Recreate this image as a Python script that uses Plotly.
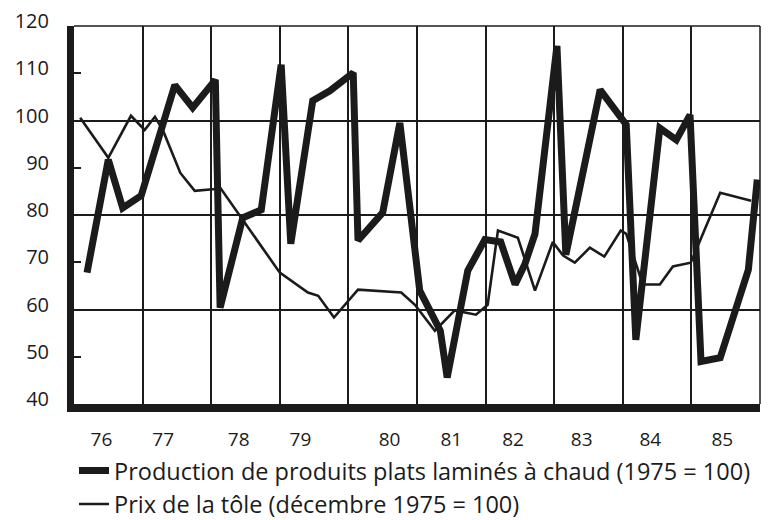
import plotly.graph_objects as go

# Production de produits plats laminés à chaud (1975 = 100)
prod_x = [1976.19, 1976.50, 1976.71, 1976.98, 1977.47, 1977.73, 1978.06, 1978.13,
          1978.46, 1978.73, 1979.02, 1979.16, 1979.48, 1979.73, 1980.07, 1980.14,
          1980.50, 1980.75, 1981.04, 1981.34, 1981.44, 1981.74, 1981.99, 1982.22,
          1982.43, 1982.57, 1982.72, 1983.04, 1983.17, 1983.67, 1984.05, 1984.19,
          1984.54, 1984.78, 1984.98, 1985.14, 1985.42, 1985.83, 1985.96]
prod_y = [67.8, 91.7, 81.5, 84.1, 107.5, 102.7, 108.6, 60.4,
          79.4, 81.1, 111.8, 73.9, 104.2, 106.3, 110.1, 74.6,
          80.5, 99.5, 64.0, 55.5, 45.6, 68.2, 74.8, 74.3,
          65.3, 69.5, 76.0, 115.8, 71.6, 106.5, 99.1, 53.6,
          98.4, 95.9, 101.2, 49.0, 49.8, 68.4, 87.5]

# Prix de la tôle (décembre 1975 = 100)
prix_x = [1976.09, 1976.50, 1976.83, 1977.03, 1977.18, 1977.30, 1977.55, 1977.76,
          1978.14, 1979.00, 1979.41, 1979.56, 1979.79, 1980.14, 1980.77, 1980.97,
          1981.26, 1981.55, 1981.86, 1982.03, 1982.18, 1982.47, 1982.72, 1982.98,
          1983.13, 1983.30, 1983.52, 1983.73, 1983.97, 1984.05, 1984.29, 1984.54,
          1984.73, 1984.99, 1985.42, 1985.87]
prix_y = [100.6, 92.1, 101.0, 98.0, 100.8, 97.8, 88.9, 85.1,
          85.6, 67.8, 63.6, 62.9, 58.3, 64.2, 63.6, 61.0,
          55.5, 59.8, 58.9, 61.0, 76.7, 75.2, 64.0, 74.3,
          71.4, 69.9, 73.1, 71.2, 76.7, 76.0, 65.3, 65.3,
          69.1, 69.9, 84.7, 83.0]

x_tick_pos = [1976.4, 1977.3, 1978.4, 1979.3, 1980.6, 1981.5, 1982.4, 1983.4, 1984.4, 1985.45]
x_tick_text = ["76", "77", "78", "79", "80", "81", "82", "83", "84", "85"]
x_grid = [1977, 1978, 1979, 1980, 1981, 1982, 1983, 1984, 1985]
y_ticks = [40, 50, 60, 70, 80, 90, 100, 110, 120]
y_grid = [60, 80, 100]

INK = "#1b1b1b"
FONT = "Open Sans"

fig = go.Figure()
fig.add_trace(go.Scatter(
    x=prod_x, y=prod_y, mode="lines",
    line=dict(color=INK, width=7, shape="linear"),
    name="Production de produits plats laminés à chaud (1975 = 100)",
    legendgroup="a",
))
fig.add_trace(go.Scatter(
    x=prix_x, y=prix_y, mode="lines",
    line=dict(color=INK, width=2.6),
    name="Prix de la tôle (décembre 1975 = 100)",
    legendgroup="b",
))

fig.update_layout(
    width=770, height=520,
    margin=dict(l=66, r=18, t=18, b=124, autoexpand=False),
    paper_bgcolor="white", plot_bgcolor="white",
    font=dict(family=FONT, color=INK, size=19),
    showlegend=True,
    legend=dict(
        x=0.0, y=-0.118, xanchor="left", yanchor="top",
        font=dict(family=FONT, size=23.5, color=INK),
        bgcolor="rgba(0,0,0,0)", tracegroupgap=0, itemwidth=30,
    ),
    shapes=[
        dict(type="line", xref="paper", yref="paper", x0=0, x1=1, y0=1, y1=1,
             line=dict(color=INK, width=1.5)),
        dict(type="line", xref="paper", yref="paper", x0=1, x1=1, y0=0, y1=1,
             line=dict(color=INK, width=1.5)),
    ],
)

fig.update_xaxes(
    range=[1976, 1986], automargin=False,
    tickmode="array", tickvals=x_tick_pos, ticktext=x_tick_text,
    ticks="", showgrid=False, zeroline=False,
    showline=True, linewidth=8, linecolor=INK,
    tickfont=dict(family=FONT, size=19, color=INK),
    ticklabelstandoff=11,
    minor=dict(tickmode="array", tickvals=x_grid, showgrid=True,
               gridcolor=INK, gridwidth=1.5, ticks=""),
)
fig.update_yaxes(
    range=[40, 120], automargin=False,
    tickmode="array", tickvals=y_ticks,
    ticks="inside", ticklen=7, tickwidth=1.5, tickcolor=INK,
    showgrid=False, zeroline=False,
    showline=True, linewidth=7, linecolor=INK,
    tickfont=dict(family=FONT, size=20, color=INK),
    ticklabelstandoff=14, ticklabelshift=-5, ticklabeloverflow="allow",
    minor=dict(tickmode="array", tickvals=y_grid, showgrid=True,
               gridcolor=INK, gridwidth=1.5, ticks=""),
)

fig.write_html("out.html")
